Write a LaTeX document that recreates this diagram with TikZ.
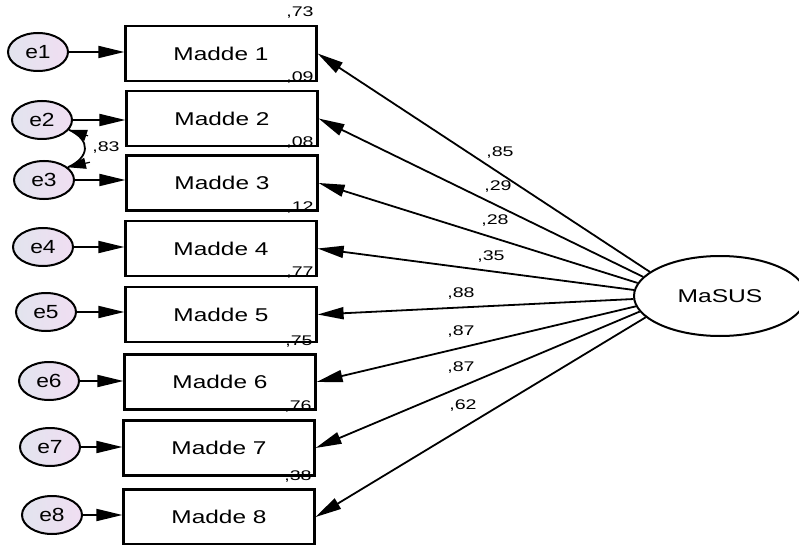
\documentclass[tikz,border=0pt]{standalone}
\usepackage{fontspec}
\setmainfont{Liberation Sans}
\usetikzlibrary{arrows.meta,shapes.geometric}
\newcommand{\stx}[2][1.32]{\scalebox{#1}[1]{#2}}
\definecolor{errL}{RGB}{226,228,238}
\definecolor{errR}{RGB}{240,222,242}
\begin{document}
\begin{tikzpicture}[x=1pt,y=-1pt,
  item/.style={draw, line width=2.2pt, minimum width=191pt, minimum height=55pt, inner sep=0pt, font=\fontsize{18.5}{20}\selectfont},
  err/.style={draw, ellipse, line width=2pt, minimum width=60pt, minimum height=38pt, inner sep=0pt, left color=errL, right color=errR, font=\fontsize{19}{20}\selectfont},
  lat/.style={draw, ellipse, line width=2pt, minimum width=172pt, minimum height=80pt, inner sep=0pt, fill=white, font=\fontsize{18.5}{20}\selectfont},
  arr/.style={line width=1.8pt, -{Triangle[length=26pt,width=12pt]}},
  covline/.style={line width=1.8pt},
  covtip/.style={line width=1.2pt, -{Triangle[length=18pt,width=11pt]}},
  coef/.style={font=\fontsize{14}{15}\selectfont, inner sep=0pt},
]
\useasboundingbox (0,0) rectangle (799,545);
% observed items
\node[item] (m1) at (221,53.5) {\stx{Madde 1}};
\node[item] (m2) at (222,118.5) {\stx{Madde 2}};
\node[item] (m3) at (222,183) {\stx{Madde 3}};
\node[item] (m4) at (221,248.5) {\stx{Madde 4}};
\node[item] (m5) at (221,314.5) {\stx{Madde 5}};
\node[item] (m6) at (220,382) {\stx{Madde 6}};
\node[item] (m7) at (219,448) {\stx{Madde 7}};
\node[item] (m8) at (219,517) {\stx{Madde 8}};
% errors
\node[err] (e1) at (38,52) {\stx[1.2]{e1}};
\node[err] (e2) at (42,120) {\stx[1.2]{e2}};
\node[err] (e3) at (44,180) {\stx[1.2]{e3}};
\node[err] (e4) at (43,247) {\stx[1.2]{e4}};
\node[err] (e5) at (46,312) {\stx[1.2]{e5}};
\node[err] (e6) at (49,381) {\stx[1.2]{e6}};
\node[err] (e7) at (50,447) {\stx[1.2]{e7}};
\node[err] (e8) at (52,515) {\stx[1.2]{e8}};
% latent
\node[lat] (ma) at (720,296) {\stx[1.33]{MaSUS}};
% error arrows
\foreach \i in {1,...,8}{
  \draw[arr] (e\i.east) -- (e\i.east -| m\i.west);
}
% loadings
\foreach \i/\a in {1/161.6,2/166.1,3/171,4/176,5/182,6/187.4,7/191,8/196.3}{
  \draw[arr] (ma.\a) -- (m\i.east);
}
% covariance
\draw[covline] (e2.-20) .. controls +(22,10) and +(22,-10) .. (e3.28);
\path (e2.-20) ++(19,6) coordinate (t2);
\path (e3.28) ++(22,-5) coordinate (t3);
\draw[covtip] (t2) -- (e2.-20);
\draw[covtip] (t3) -- (e3.28);
\node[coef] (c23) at (106,148) {\stx[1.4]{,83}};
% loading values
\node[coef] (l1) at (500,153) {\stx[1.4]{,85}};
\node[coef] (l2) at (498,187) {\stx[1.4]{,29}};
\node[coef] (l3) at (495,221) {\stx[1.4]{,28}};
\node[coef] (l4) at (491,257) {\stx[1.4]{,35}};
\node[coef] (l5) at (461,294) {\stx[1.4]{,88}};
\node[coef] (l6) at (461,332) {\stx[1.4]{,87}};
\node[coef] (l7) at (461,368) {\stx[1.4]{,87}};
\node[coef] (l8) at (463,406) {\stx[1.4]{,62}};
% squared multiple correlations
\node[coef] (r1) at (300,13) {\stx[1.4]{,73}};
\node[coef] (r2) at (300,78) {\stx[1.4]{,09}};
\node[coef] (r3) at (300,143) {\stx[1.4]{,08}};
\node[coef] (r4) at (300,208) {\stx[1.4]{,12}};
\node[coef] (r5) at (300,273) {\stx[1.4]{,77}};
\node[coef] (r6) at (299,342) {\stx[1.4]{,75}};
\node[coef] (r7) at (298,407) {\stx[1.4]{,76}};
\node[coef] (r8) at (298,477) {\stx[1.4]{,38}};
\end{tikzpicture}
\end{document}
